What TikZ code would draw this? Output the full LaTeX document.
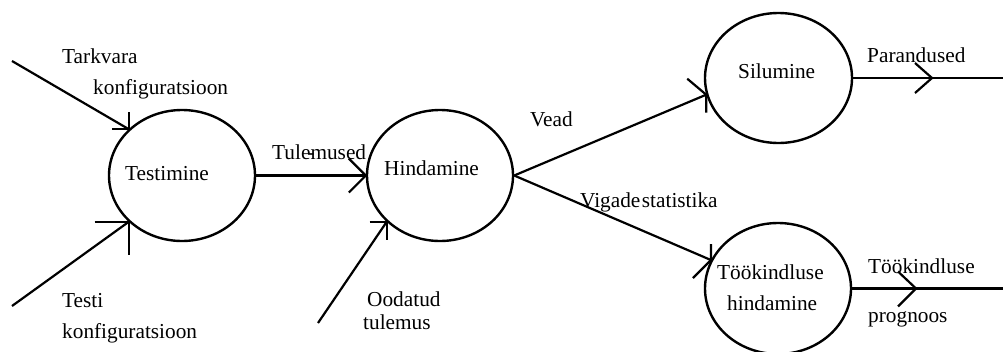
\documentclass[tikz,border=0pt]{standalone}
\usepackage{fontspec}
\setmainfont{Liberation Serif}
\usetikzlibrary{shapes.geometric,calc}
\begin{document}
\begin{tikzpicture}[x=1pt,y=-1pt,
  bubble/.style={ellipse,draw,line width=2.4pt,inner sep=0pt,
                 minimum width=146pt,minimum height=131pt},
  flow/.style={line width=2.2pt},
  lbl/.style={anchor=base west,inner sep=0pt,
              font=\fontsize{21.3}{25}\selectfont}]
\useasboundingbox (0,0) rectangle (1003,351);

% processes
\node[bubble] (test) at (182,175.5) {};
\node[bubble] (hind) at (440,175.5) {};
\node[bubble,minimum width=147pt,minimum height=130pt] (sil) at (778.5,78) {};
\node[bubble] (tk) at (778,288.5) {};

\node[lbl] (testT) at (125,180) {Testimine};
\node[lbl] (hindT) at (384,175) {Hindamine};
\node[lbl] (silT) at (738,78) {Silumine};
\node[lbl] (tkT1) at (717,279) {Töökindluse};
\node[lbl] (tkT2) at (727,310) {hindamine};

% free ends of the external flows
\coordinate (tarkIn) at (12,61);
\coordinate (testiIn) at (12,306);
\coordinate (oodIn) at (318,323);
\coordinate (parOut) at (1003,78);
\coordinate (progOut) at (1003,288.5);

% arrow tips on the bubbles
\coordinate (tarkTip) at (test.139);
\coordinate (testiTip) at (test.221);
\coordinate (oodTip) at (hind.221);
\coordinate (veadTip) at (sil.193);
\coordinate (vigTip) at (tk.157);
\coordinate (tulTip) at (hind.west);
\coordinate (parTip) at (932,78);
\coordinate (progTip) at (916,288.5);

% flows
\draw[flow] (tarkIn) -- (tarkTip);
\draw[flow] ($(tarkTip)+(0,-17)$) -- (tarkTip) -- ++(-17,0);

\draw[flow] (testiIn) -- (testiTip);
\draw[flow] ($(testiTip)+(-34,0)$) -- (testiTip) -- ++(0,33);

\draw[flow] (test.east) -- (hind.west);
\draw[flow] ($(tulTip)+(-17,-17)$) -- (tulTip) -- ++(-17,17);

\draw[flow] (oodIn) -- (oodTip);
\draw[flow] ($(oodTip)+(-17,0)$) -- (oodTip) -- ++(0,18);

\draw[flow] (hind.east) -- (veadTip);
\draw[flow] ($(veadTip)+(-19,-16)$) -- (veadTip) -- ++(0,18);

\draw[flow] (hind.east) -- (vigTip);
\draw[flow] ($(vigTip)+(0,-16)$) -- (vigTip) -- ++(-18,18);

\draw[flow] (sil.east) -- (parOut);
\draw[flow] ($(parTip)+(-17,-15)$) -- (parTip) -- ++(-17,15);

\draw[flow] (tk.east) -- (progOut);
\draw[flow] ($(progTip)+(-18,-17)$) -- (progTip) -- ++(-18,18);

% flow labels
\node[lbl] (tarkL1) at (62,63) {Tarkvara};
\node[lbl] (tarkL2) at (93,94) {konfiguratsioon};
\node[lbl] (testiL1) at (62,307) {Testi};
\node[lbl] (testiL2) at (62,338) {konfiguratsioon};
\node[lbl] (tulL) at (272,159) {Tule\makebox[0pt]{\kern1pt-}mused};
\node[lbl] (oodL1) at (367,306) {Oodatud};
\node[lbl] (oodL2) at (363,329) {tulemus};
\node[lbl] (veadL) at (530,126) {Vead};
\node[lbl] (vigL) at (580,207) {Vigade\kern1.5pt statistika};
\node[lbl] (parL) at (867,62) {Parandused};
\node[lbl] (progL1) at (868,273) {Töökindluse};
\node[lbl] (progL2) at (868,322) {prognoos};
\end{tikzpicture}
\end{document}
